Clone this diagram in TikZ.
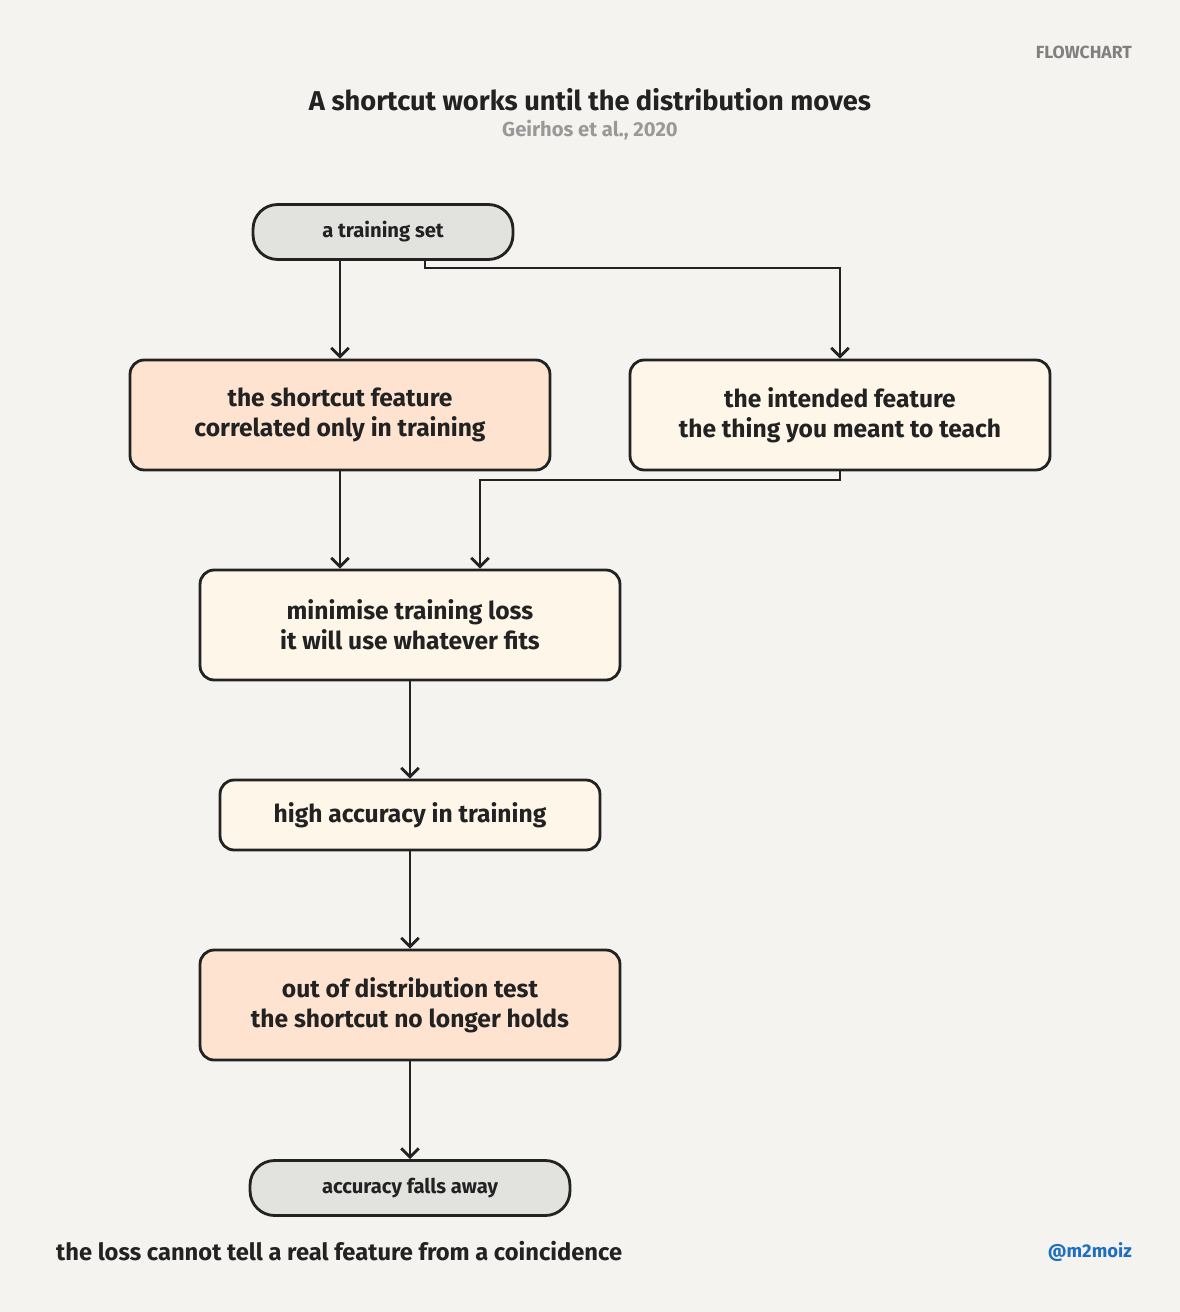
\documentclass[tikz,border=0pt]{standalone}
\usepackage{fontspec}
\setmainfont{Fira Sans}
\usetikzlibrary{positioning,arrows.meta}
\definecolor{bgc}{HTML}{F5F3EF}
\definecolor{termc}{HTML}{E2E3DF}
\definecolor{peach}{HTML}{FDE3D0}
\definecolor{cream}{HTML}{FEF6E8}
\definecolor{inkc}{HTML}{222222}
\definecolor{handc}{HTML}{1F6FC0}
\tikzset{
  box/.style={rectangle, rounded corners=8pt, draw=inkc, line width=1.6pt, align=center, font=\fontsize{14}{17}\selectfont\bfseries, text=inkc},
  term/.style={box, rounded corners=14pt, fill=termc, font=\fontsize{11.5}{14}\selectfont\bfseries},
  flow/.style={draw=inkc, line width=1.6pt, -{Straight Barb[length=5pt]}},
}
\begin{document}
\begin{tikzpicture}[x=0.02cm,y=-0.02cm]
  \fill[bgc] (0,0) rectangle (1180,1312);
  \useasboundingbox (0,0) rectangle (1180,1312);
  % headings
  \node[font=\fontsize{10}{12}\selectfont\bfseries, text=gray, anchor=east] (tag) at (1138,52) {FLOWCHART};
  \node[font=\fontsize{15.5}{19}\selectfont\bfseries, text=inkc] (title) at (590,100) {A shortcut works until the distribution moves};
  \node[font=\fontsize{11.5}{14}\selectfont\bfseries, text=gray!80] (cite) at (590,130) {Geirhos et al., 2020};
  % nodes
  \node[term, minimum width=5.2cm, minimum height=1.1cm] (train) at (383,232) {a training set};
  \node[box, fill=peach, minimum width=8.4cm, minimum height=2.2cm] (short) at (340,415) {the shortcut feature\\correlated only in training};
  \node[box, fill=cream, minimum width=8.4cm, minimum height=2.2cm] (intend) at (840,415) {the intended feature\\the thing you meant to teach};
  \node[box, fill=cream, minimum width=8.4cm, minimum height=2.2cm] (loss) at (410,625) {minimise training loss\\it will use whatever fits};
  \node[box, fill=cream, minimum width=7.6cm, minimum height=1.4cm] (acc) at (410,815) {high accuracy in training};
  \node[box, fill=peach, minimum width=8.4cm, minimum height=2.2cm] (ood) at (410,1005) {out of distribution test\\the shortcut no longer holds};
  \node[term, minimum width=6.4cm, minimum height=1.1cm] (fall) at (410,1188) {accuracy falls away};
  % connectors
  \coordinate (j1) at (425,268);
  \coordinate (j2) at (840,268);
  \coordinate (j3) at (840,480);
  \coordinate (j4) at (480,480);
  \draw[flow] (train.south -| short.north) -- (short.north);
  \draw[flow] (train.south -| j1) -- (j1) -- (j2) -- (intend.north);
  \draw[flow] (short.south) -- (short.south |- loss.north);
  \draw[flow] (intend.south) -- (j3) -- (j4) -- (j4 |- loss.north);
  \draw[flow] (loss.south) -- (acc.north);
  \draw[flow] (acc.south) -- (ood.north);
  \draw[flow] (ood.south) -- (fall.north);
  % footer
  \node[font=\fontsize{13.5}{16}\selectfont\bfseries, text=inkc, anchor=west] (note) at (50,1251) {the loss cannot tell a real feature from a coincidence};
  \node[font=\fontsize{10.5}{13}\selectfont\bfseries, text=handc, anchor=east] (handle) at (1138,1252) {@m2moiz};
\end{tikzpicture}
\end{document}
